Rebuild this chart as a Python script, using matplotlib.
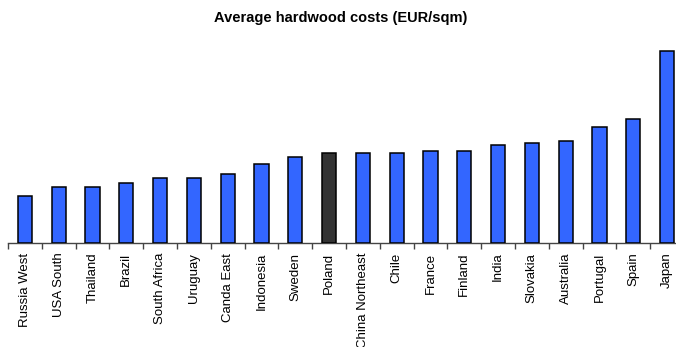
import matplotlib
matplotlib.use("Agg")
import matplotlib.pyplot as plt
import numpy as np

plt.rcParams['font.family'] = ['Liberation Sans', 'DejaVu Sans']

countries = ["Russia West", "USA South", "Thailand", "Brazil", "South Africa",
             "Uruguay", "Canda East", "Indonesia", "Sweden", "Poland",
             "China Northeast", "Chile", "France", "Finland", "India",
             "Slovakia", "Australia", "Portugal", "Spain", "Japan"]
costs = [47, 56, 56, 60, 65, 65, 69, 79, 86, 90, 90, 90, 92, 92, 98,
         100, 102, 116, 124, 192]
highlight = "Poland"

W, H = 676, 347
fig = plt.figure(figsize=(W / 100, H / 100), dpi=100)
ax = fig.add_axes([8 / W, 1 - 243 / H, 676 / W, 200 / H])

x = np.arange(len(countries))
colors = ["#333333" if c == highlight else "#3366FF" for c in countries]
ax.bar(x, costs, width=0.42, color=colors, edgecolor="black", linewidth=1.1, zorder=3)

ax.set_xlim(-0.5, len(countries) - 0.5)
ax.set_ylim(0, 200)
for s in ["top", "right", "left"]:
    ax.spines[s].set_visible(False)
ax.spines["bottom"].set_color("#444444")
ax.spines["bottom"].set_linewidth(1.0)
ax.set_yticks([])

ax.set_xticks(x)
ax.set_xticklabels(countries, rotation=90, fontsize=9.5, va="top", ha="center")
ax.tick_params(axis="x", which="major", length=0, pad=7)
ax.set_xticks(np.arange(len(countries) + 1) - 0.5, minor=True)
ax.tick_params(axis="x", which="minor", length=4, width=1, color="#444444", direction="out")

fig.text(341 / W, 1 - 18 / H, "Average hardwood costs (EUR/sqm)", ha="center", va="center",
         fontsize=10.5, fontweight="bold")

fig.savefig("out.png", dpi=100)
